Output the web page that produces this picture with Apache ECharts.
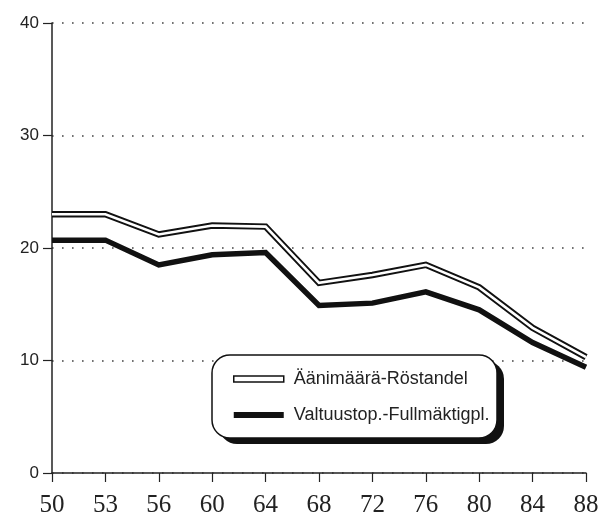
<!DOCTYPE html>
<html>
<head>
<meta charset="utf-8">
<script src="https://cdn.jsdelivr.net/npm/echarts@6/dist/echarts.min.js"></script>
<style>
  html, body { margin: 0; padding: 0; background: #fff; }
  #chart { width: 605px; height: 520px; }
</style>
</head>
<body>
<div id="chart"></div>
<script>
var years = ["50", "53", "56", "60", "64", "68", "72", "76", "80", "84", "88"];
var voteShare = [23.0, 23.0, 21.2, 22.0, 21.9, 16.9, 17.6, 18.5, 16.5, 12.9, 10.3];
var seatShare = [20.7, 20.7, 18.5, 19.4, 19.6, 14.9, 15.1, 16.1, 14.5, 11.6, 9.4];
var yTicks = [0, 10, 20, 30, 40];

var NAME_VOTES = "Äänimäärä-Röstandel";
var NAME_SEATS = "Valtuustop.-Fullmäktigpl.";

var chart = echarts.init(document.getElementById("chart"));

// legend frame: rounded box with a hard black drop shadow
var BOX = { x: 212, y: 355, width: 285, height: 83, r: 18 };

var option = {
  backgroundColor: "#fff",
  animation: false,
  grid: { left: 52, right: 19, top: 23, bottom: 47 },
  graphic: [
    {
      type: "rect",
      z: 10,
      shape: { x: BOX.x + 7, y: BOX.y + 6, width: BOX.width, height: BOX.height, r: BOX.r },
      style: { fill: "#111" },
      silent: true,
    },
    {
      type: "rect",
      z: 11,
      shape: { x: BOX.x, y: BOX.y, width: BOX.width, height: BOX.height, r: BOX.r },
      style: { fill: "#fff", stroke: "#111", lineWidth: 1.5 },
      silent: true,
    },
  ],
  legend: {
    orient: "vertical",
    z: 20,
    left: 212,
    top: 355,
    padding: [14, 8, 13, 21],
    itemWidth: 50,
    itemHeight: 6,
    itemGap: 16,
    textStyle: {
      fontFamily: "Liberation Sans",
      fontSize: 18,
      lineHeight: 20,
      color: "#222",
      padding: [0, 0, 0, 5],
    },
    data: [
      {
        name: NAME_VOTES,
        icon: "rect",
        itemStyle: { color: "#fff", borderColor: "#111", borderWidth: 1.5 },
      },
      { name: NAME_SEATS, icon: "rect", itemStyle: { color: "#111" } },
    ],
  },
  xAxis: {
    type: "category",
    data: years,
    boundaryGap: false,
    axisLine: { lineStyle: { color: "#222", width: 1.5 } },
    axisTick: { length: 9, lineStyle: { color: "#222", width: 1.2 } },
    axisLabel: {
      fontFamily: "Liberation Serif",
      fontSize: 25,
      color: "#222",
      margin: 20,
    },
  },
  yAxis: {
    type: "value",
    min: yTicks[0],
    max: yTicks[yTicks.length - 1],
    interval: 10,
    axisLine: { show: true, lineStyle: { color: "#222", width: 1.5 } },
    axisTick: { show: true, length: 9, lineStyle: { color: "#222", width: 1.2 } },
    axisLabel: {
      fontFamily: "Liberation Sans",
      fontSize: 17,
      color: "#222",
      margin: 13,
      padding: [0, 0, 10, 0],
    },
    splitLine: {
      show: true,
      lineStyle: { color: "#444", width: 1.6, type: [1.6, 8.4], dashOffset: -10 },
    },
  },
  series: [
    {
      name: NAME_VOTES,
      type: "line",
      data: voteShare,
      symbol: "none",
      lineStyle: { color: "#111", width: 6.5, join: "miter" },
      itemStyle: { color: "#fff" },
      z: 3,
    },
    {
      name: "votesInner",
      type: "line",
      data: voteShare,
      symbol: "none",
      lineStyle: { color: "#fff", width: 2.6, join: "miter" },
      z: 4,
      silent: true,
    },
    {
      name: NAME_SEATS,
      type: "line",
      data: seatShare,
      symbol: "none",
      lineStyle: { color: "#111", width: 5.5, join: "miter" },
      itemStyle: { color: "#111" },
      z: 5,
    },
  ],
};

chart.setOption(option);
</script>
</body>
</html>
